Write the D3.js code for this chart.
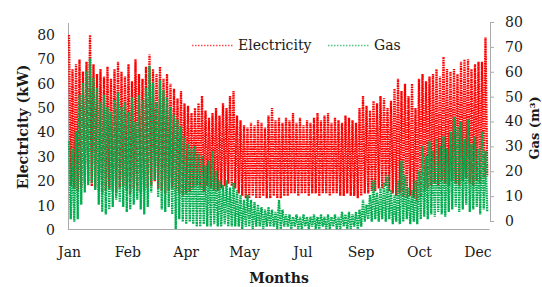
<!DOCTYPE html>
<html>
<head>
<meta charset="utf-8">
<script src="https://cdn.jsdelivr.net/npm/d3@7"></script>
<style>
  body { margin: 0; background: #fff; }
  svg { display: block; }
  text { font-family: "DejaVu Serif", serif; fill: #1a1a1a; }
</style>
</head>
<body>
<script>
// one high and one low reading per 72 hours
var step = 72;

var elecHigh = [80,66,68,70,65,69,80,68,64,66, 63,67,62,66,69,65,63,68,61,70,
	64,62,67,72,66,64,67,62,64,60, 58,54,57,52,51,48,50,52,55,49,
	46,48,50,47,52,50,55,57,47,45, 43,42,44,43,45,44,42,47,50,45,
	46,44,46,45,48,44,46,43,45,44, 46,48,45,47,48,44,46,45,44,47,
	46,45,44,50,55,51,49,53,52,55, 54,50,53,58,62,57,60,55,60,50,
	62,64,61,63,64,66,63,71,66,65, 66,64,69,70,70,66,68,69,69,79];

var elecLow = [18,17,16,17,19,20,18,17,16,15, 16,17,16,15,17,18,16,15,17,16,
	15,16,17,18,20,17,16,15,16,17, 16,15,14,15,16,17,18,17,16,18,
	17,16,16,17,18,19,18,17,15,14, 13,13,14,13,13,14,13,13,14,13,
	13,14,14,15,15,14,15,15,14,15, 15,14,15,15,14,15,15,14,14,15,
	14,14,13,14,15,15,16,16,17,17, 18,16,15,14,15,14,13,14,13,12,
	14,16,17,18,19,18,20,19,18,20, 19,18,20,21,19,18,20,19,21,22];

var gasHigh = [36,33,40,55,60,65,70,62,58,52, 55,50,48,53,56,50,52,48,54,44,
	55,53,58,67,60,52,61,57,54,50, 47,45,42,38,35,33,34,31,30,26,
	28,32,24,20,18,20,17,19,16,14, 12,14,12,11,10,9,8,9,8,7,
	12,8,6,6,5,6,5,6,5,5, 6,5,6,5,6,5,6,5,7,6,
	7,6,7,8,12,10,14,20,15,17, 19,22,16,14,20,28,22,17,16,20,
	24,34,30,36,32,37,34,38,33,40, 46,42,44,37,45,35,38,33,40,32];

var gasLow = [4,3,4,10,15,18,19,16,10,7, 6,8,9,12,11,9,7,8,10,12,
	8,6,9,15,20,13,8,7,9,6, 0,4,3,2,3,2,1,1,2,1,
	1,2,1,1,2,1,1,1,1,0, 1,1,0,1,1,0,1,1,1,0,
	0,1,1,0,1,0,0,1,0,1, 0,0,1,0,0,1,0,0,1,0,
	0,1,0,1,3,4,3,4,3,4, 3,4,2,3,2,3,4,2,3,2,
	4,5,4,6,5,7,6,5,7,8, 9,7,8,10,7,8,9,6,8,7];

var monthHours = [0,1200,2400,3600,4800,6000,7200,8400];
var monthLabels = ["Jan","Feb","Apr","May","Jul","Sep","Oct","Dec"];
var yTicks = [0,10,20,30,40,50,60,70,80];

var width = 542;
var height = 287;

var svg = d3.select("body").append("svg")
	.attr("width", width)
	.attr("height", height);

var x = d3.scaleLinear().domain([0, 8640]).range([69, 489]);
var yElec = d3.scaleLinear().domain([0, 80]).range([230, 35]);
var yGas = d3.scaleLinear().domain([0, 80]).range([229, 34]);
var yGasAxis = d3.scaleLinear().domain([0, 80]).range([221, 22]);

function points(high, low) {
	var out = [];
	high.forEach(function(h, i) {
		out.push([i * step, h]);
		out.push([i * step + step / 2, low[i]]);
	});
	return out;
}

// axes
svg.append("line")
	.attr("x1", 68.5).attr("x2", 68.5).attr("y1", 23).attr("y2", 230)
	.style("stroke", "#aaa");

var left = svg.append("g")
	.attr("transform", "translate(68,0)")
	.call(d3.axisLeft(yElec).tickValues(yTicks).tickSize(0).tickPadding(13));
left.select(".domain").remove();

var bottom = svg.append("g")
	.attr("transform", "translate(0,229.5)")
	.call(d3.axisBottom(x).tickValues(monthHours)
		.tickFormat(function(d, i) { return monthLabels[i]; })
		.tickSize(0).tickPadding(18));
bottom.select(".domain").attr("d", "M68.5,0H489.5").style("stroke", "#aaa");

var right = svg.append("g")
	.attr("transform", "translate(490,0)")
	.call(d3.axisRight(yGasAxis).tickValues(yTicks).tickSizeOuter(0).tickSizeInner(4).tickPadding(11));
right.selectAll("line, .domain").style("stroke", "#aaa");

svg.selectAll(".tick text")
	.style("font-size", "14px")
	.style("font-family", "'DejaVu Serif', serif")
	.style("fill", "#1a1a1a");

// series
var lineElec = d3.line().x(function(d){return x(d[0]);}).y(function(d){return yElec(d[1]);});
var lineGas = d3.line().x(function(d){return x(d[0]);}).y(function(d){return yGas(d[1]);});

svg.append("path")
	.attr("d", lineElec(points(elecHigh, elecLow)))
	.style("fill", "none")
	.style("stroke", "#ff0000")
	.style("stroke-width", 2.3)
	.style("stroke-dasharray", "1.6,0.8");

svg.append("path")
	.attr("d", lineGas(points(gasHigh, gasLow)))
	.style("fill", "none")
	.style("stroke", "#00ac4e")
	.style("stroke-width", 2.3)
	.style("stroke-dasharray", "1.6,0.8");

// titles
svg.append("text")
	.attr("transform", "translate(28,127) rotate(-90)")
	.attr("text-anchor", "middle")
	.style("font-size", "14px").style("font-weight", "bold")
	.text("Electricity (kW)");

svg.append("text")
	.attr("transform", "translate(539,128) rotate(-90)")
	.attr("text-anchor", "middle")
	.style("font-size", "13px").style("font-weight", "bold")
	.text("Gas (m³)");

svg.append("text")
	.attr("x", 279).attr("y", 283)
	.attr("text-anchor", "middle")
	.style("font-size", "14px").style("font-weight", "bold")
	.text("Months");

// legend
var legend = [["Electricity", "#ff0000", 192], ["Gas", "#00b050", 328]];
legend.forEach(function(l) {
	svg.append("line")
		.attr("x1", l[2]).attr("x2", l[2] + 41).attr("y1", 45.5).attr("y2", 45.5)
		.style("stroke", l[1]).style("stroke-width", 1.5).style("stroke-dasharray", "1.5,1.5")
		.style("opacity", 0.7);
	svg.append("text")
		.attr("x", l[2] + 46).attr("y", 50)
		.style("font-size", "14px")
		.text(l[0]);
});
</script>
</body>
</html>
